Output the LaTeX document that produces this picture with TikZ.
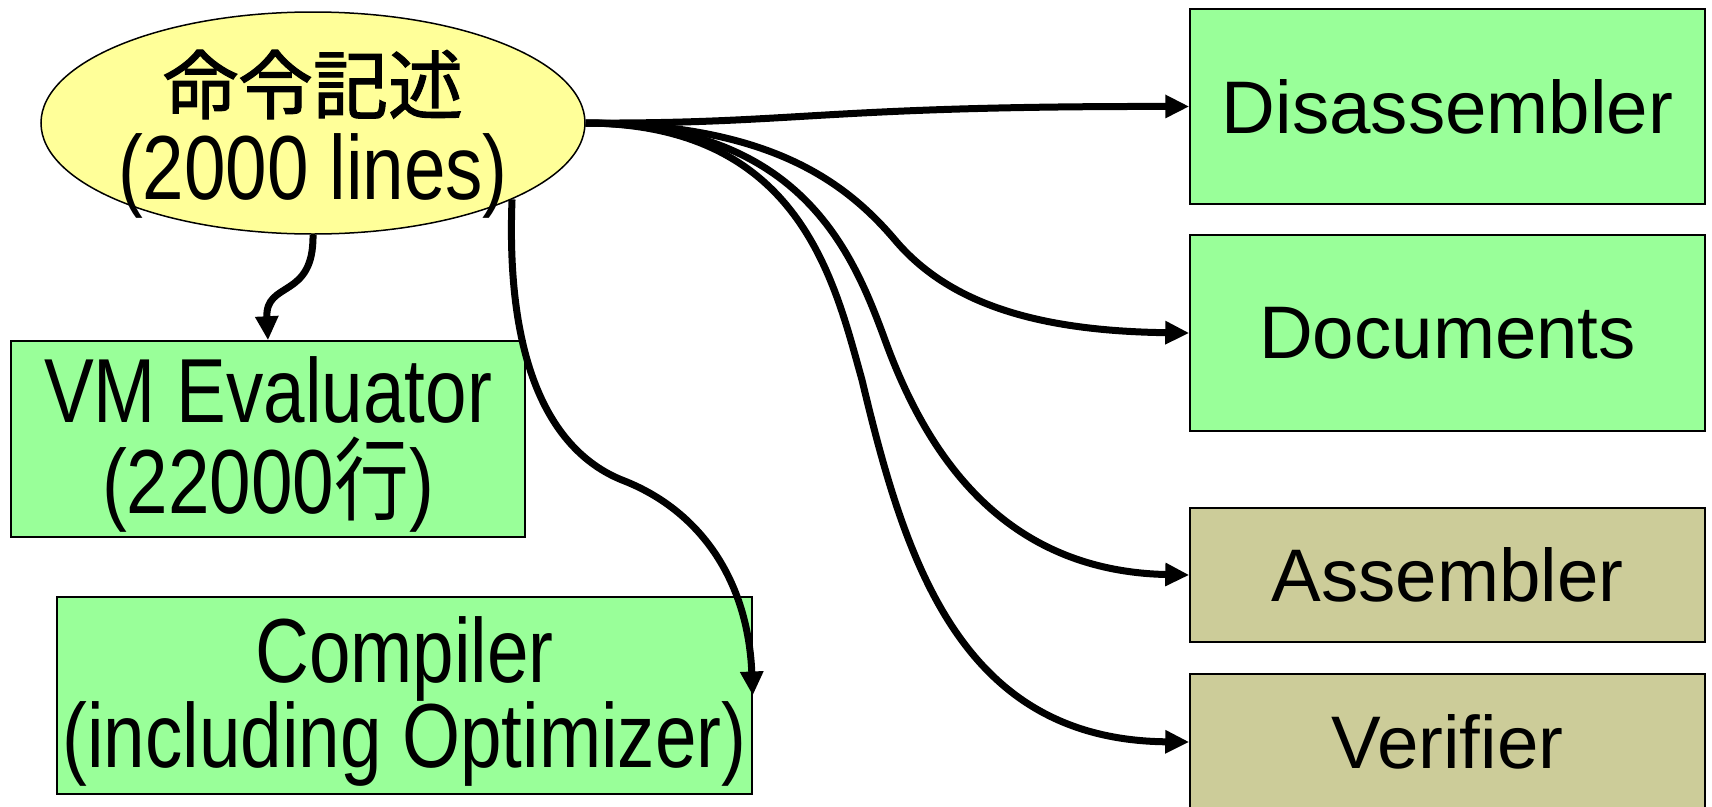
\documentclass[tikz,border=0pt]{standalone}
\usepackage{fontspec}
\setmainfont{Liberation Sans}
\newfontfamily\jpfont{Noto Sans CJK JP}[FakeBold=1.5]
\newfontfamily\narrowfont{Liberation Sans}[FakeStretch=0.82]
\newfontfamily\jpnarrowfont{Noto Sans CJK JP}[FakeStretch=0.82]
\usetikzlibrary{shapes.geometric,arrows.meta}
\definecolor{boxgreen}{RGB}{153,255,153}
\definecolor{boxtan}{RGB}{204,204,153}
\definecolor{ovalyellow}{RGB}{255,255,153}
% struts that fix the first baseline and the last depth of two-line labels
\newcommand{\topstrut}[1]{\rule{0pt}{#1}}
\newcommand{\botstrut}[1]{\rule[-#1]{0pt}{#1}}
\begin{document}
\begin{tikzpicture}[x=1pt,y=-1pt,
  toolbox/.style={draw=black, line width=1.5pt, inner sep=0pt,
    minimum width=515pt, font=\fontsize{74.5}{80}\selectfont},
  corebox/.style={draw=black, line width=1.5pt, fill=boxgreen, inner sep=0pt,
    align=center},
  flow/.style={line width=7pt, -{Triangle[length=24pt,width=22pt]}}
]
\useasboundingbox (0,0) rectangle (1712,806);
\clip (0,0) rectangle (1712,806);

% instruction description (source of everything)
\node[ellipse, draw=black, line width=1.5pt, fill=ovalyellow, inner sep=0pt,
      minimum width=544pt, minimum height=222pt] (spec) at (313,123) {};
\node[inner sep=0pt, align=center,
      font=\narrowfont\fontsize{91}{86.5}\selectfont] (spectext) at (313,126)
  {\topstrut{82.5pt}{\jpfont\fontsize{75}{86.5}\selectfont 命令記述}\\
   (2000 lines)\botstrut{22pt}};

% generated tools on the right
\node[toolbox, fill=boxgreen, minimum height=195pt] (dis) at (1447.5,106.5) {Disassembler};
\node[toolbox, fill=boxgreen, minimum height=196pt] (doc) at (1447.5,333) {Documents};
\node[toolbox, fill=boxtan, minimum height=134pt] (asm) at (1447.5,575) {Assembler};
\node[toolbox, fill=boxtan, minimum height=136pt] (ver) at (1447.5,742) {Verifier};

% generated core parts on the left
\node[corebox, minimum width=514pt, minimum height=196pt,
      font=\narrowfont\fontsize{91}{91}\selectfont] (vm) at (268,439)
  {\topstrut{80pt}VM Evaluator\\(22000{\jpnarrowfont 行})\botstrut{22pt}};
\node[corebox, minimum width=695pt, minimum height=197pt,
      font=\narrowfont\fontsize{91}{85}\selectfont] (comp) at (404.5,695.5)
  {\topstrut{80pt}Compiler\\(including Optimizer)\botstrut{22pt}};

% connectors
\draw[flow] (spec.east) .. controls (800,124) and (820,106) .. (dis.west);
\draw[flow] (spec.east) .. controls (760,124) and (840,175) .. (895,240)
  .. controls (950,305) and (1040,331) .. (doc.west);
\draw[flow] (spec.east) .. controls (800,124) and (852,250) .. (885,340)
  .. controls (925,450) and (1000,571) .. (asm.west);
\draw[flow] (spec.east) .. controls (800,124) and (834,280) .. (862,380)
  .. controls (905,560) and (960,740) .. (ver.west);
\draw[flow] (spec.south) .. controls (314,300) and (265,280) .. (vm.north);
\draw[flow] (spec.-21) .. controls (505,380) and (560,455) .. (622,480)
  .. controls (700,510) and (748,580) .. (comp.east);
\end{tikzpicture}
\end{document}
